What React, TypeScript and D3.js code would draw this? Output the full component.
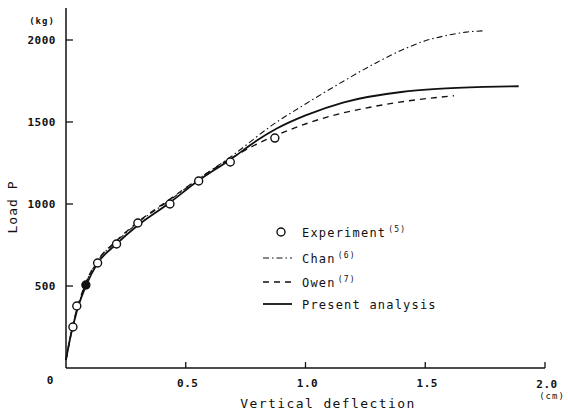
import React from "react";
import * as d3 from "d3";

const xTicks = [0.5, 1.0, 1.5, 2.0];
const xTickLabels = ["0.5", "1.0", "1.5", "2.0"];
const yTicks = [500, 1000, 1500, 2000];
const yTickLabels = ["500", "1000", "1500", "2000"];

const experimentX = [0.029, 0.045, 0.083, 0.132, 0.211, 0.30, 0.434, 0.554, 0.686, 0.872];
const experimentP = [250, 378, 506, 640, 756, 884, 1000, 1140, 1256, 1402];
const experimentFilled = [false, false, true, false, false, false, false, false, false, false];

const presentX = [0, 0.02, 0.03, 0.05, 0.083, 0.13, 0.21, 0.30, 0.43, 0.55, 0.69, 0.80, 0.88, 1.0, 1.16, 1.4, 1.55, 1.75, 1.89];
const presentP = [50, 200, 260, 370, 500, 635, 755, 870, 1005, 1140, 1275, 1390, 1460, 1540, 1620, 1683, 1702, 1714, 1718];

const owenX = [0, 0.03, 0.083, 0.13, 0.21, 0.30, 0.43, 0.55, 0.69, 0.75, 0.93, 1.09, 1.27, 1.37, 1.55, 1.62];
const owenP = [50, 270, 520, 650, 775, 890, 1025, 1150, 1280, 1330, 1450, 1530, 1590, 1616, 1650, 1660];

const chanX = [0, 0.03, 0.083, 0.13, 0.21, 0.30, 0.43, 0.55, 0.69, 0.87, 1.0, 1.16, 1.3, 1.42, 1.5, 1.59, 1.67, 1.74];
const chanP = [50, 265, 515, 648, 770, 885, 1020, 1150, 1290, 1490, 1610, 1750, 1865, 1950, 1995, 2028, 2048, 2056];

const legendLabels = ["Experiment", "Chan", "Owen", "Present analysis"];
const legendRefs = ["(5)", "(6)", "(7)", ""];

const FONT = "'DejaVu Sans Mono', monospace";

export default function App() {
  const x = d3.scaleLinear().domain([0, 2.0]).range([66, 545]);
  const y = d3.scaleLinear().domain([0, 2000]).range([368, 40]);

  const mk = (xs: number[], ps: number[]) => {
    const line = d3
      .line<number>()
      .x((_, i) => x(xs[i]))
      .y((p) => y(p))
      .curve(d3.curveMonotoneX);
    return line(ps) || "";
  };

  const legendY = [233, 259, 283, 305];
  const legendStyles = [
    null,
    { dash: "6,3,1.5,3", w: 1.1 },
    { dash: "6,5", w: 1.4 },
    { dash: "none", w: 1.8 },
  ];

  return (
    <svg
      width={568}
      height={414}
      style={{ position: "absolute", left: 0, top: 0, background: "#fff" }}
      fontFamily={FONT}
    >
      <rect width={568} height={414} fill="#fff" />
      {/* axes */}
      <line x1={66} y1={8} x2={66} y2={368} stroke="#111" strokeWidth={1.5} />
      <line x1={66} y1={368} x2={545} y2={368} stroke="#111" strokeWidth={1.5} />
      {yTicks.map((t, i) => (
        <g key={"yt" + i}>
          <line x1={66} x2={73} y1={y(t)} y2={y(t)} stroke="#111" strokeWidth={1.3} />
          <text x={56} y={y(t) + 4} textAnchor="end" fontSize={11} fontWeight="bold" letterSpacing={0.5} fill="#111">
            {yTickLabels[i]}
          </text>
        </g>
      ))}
      <text x={50} y={384} textAnchor="middle" fontSize={11} fontWeight="bold" fill="#111">0</text>
      {xTicks.map((t, i) => (
        <g key={"xt" + i}>
          <line x1={x(t)} x2={x(t)} y1={368} y2={362} stroke="#111" strokeWidth={1.3} />
          <text x={x(t) + 2} y={t === 2.0 ? 388 : 387} textAnchor="middle" fontSize={11} fontWeight="bold" letterSpacing={0.5} fill="#111">
            {xTickLabels[i]}
          </text>
        </g>
      ))}
      <text x={42} y={24} textAnchor="middle" fontSize={9} fontWeight="bold" letterSpacing={1} fill="#111">(kg)</text>
      <text x={552} y={399} textAnchor="middle" fontSize={9} letterSpacing={1} fill="#111">(cm)</text>
      <text x={328} y={408} textAnchor="middle" fontSize={13} letterSpacing={1.4} fill="#111">
        Vertical deflection
      </text>
      <text
        transform={`translate(17,207) rotate(-90)`}
        textAnchor="middle"
        fontSize={13}
        letterSpacing={1}
        fill="#111"
      >
        Load P
      </text>

      {/* curves */}
      <path d={mk(chanX, chanP)} fill="none" stroke="#111" strokeWidth={1.1} strokeDasharray="6,3,1.5,3" />
      <path d={mk(owenX, owenP)} fill="none" stroke="#111" strokeWidth={1.4} strokeDasharray="6,5" />
      <path d={mk(presentX, presentP)} fill="none" stroke="#111" strokeWidth={1.8} />

      {experimentX.map((v, i) => (
        <circle
          key={"c" + i}
          cx={x(v)}
          cy={y(experimentP[i])}
          r={4}
          fill={experimentFilled[i] ? "#111" : "#fff"}
          stroke="#111"
          strokeWidth={1.4}
        />
      ))}

      {/* legend */}
      {legendLabels.map((lab, i) => (
        <g key={"lg" + i}>
          {i === 0 ? (
            <circle cx={281} cy={legendY[i] - 1} r={4} fill="#fff" stroke="#111" strokeWidth={1.4} />
          ) : (
            <line
              x1={263}
              x2={292}
              y1={legendY[i] - 1}
              y2={legendY[i] - 1}
              stroke="#111"
              strokeWidth={legendStyles[i]!.w}
              strokeDasharray={legendStyles[i]!.dash}
            />
          )}
          <text x={302} y={legendY[i] + 4} fontSize={12} letterSpacing={1.2} fill="#111">
            {lab}
            {legendRefs[i] && (
              <tspan dy={-5} fontSize={8} dx={2}>
                {legendRefs[i]}
              </tspan>
            )}
          </text>
        </g>
      ))}
    </svg>
  );
}
